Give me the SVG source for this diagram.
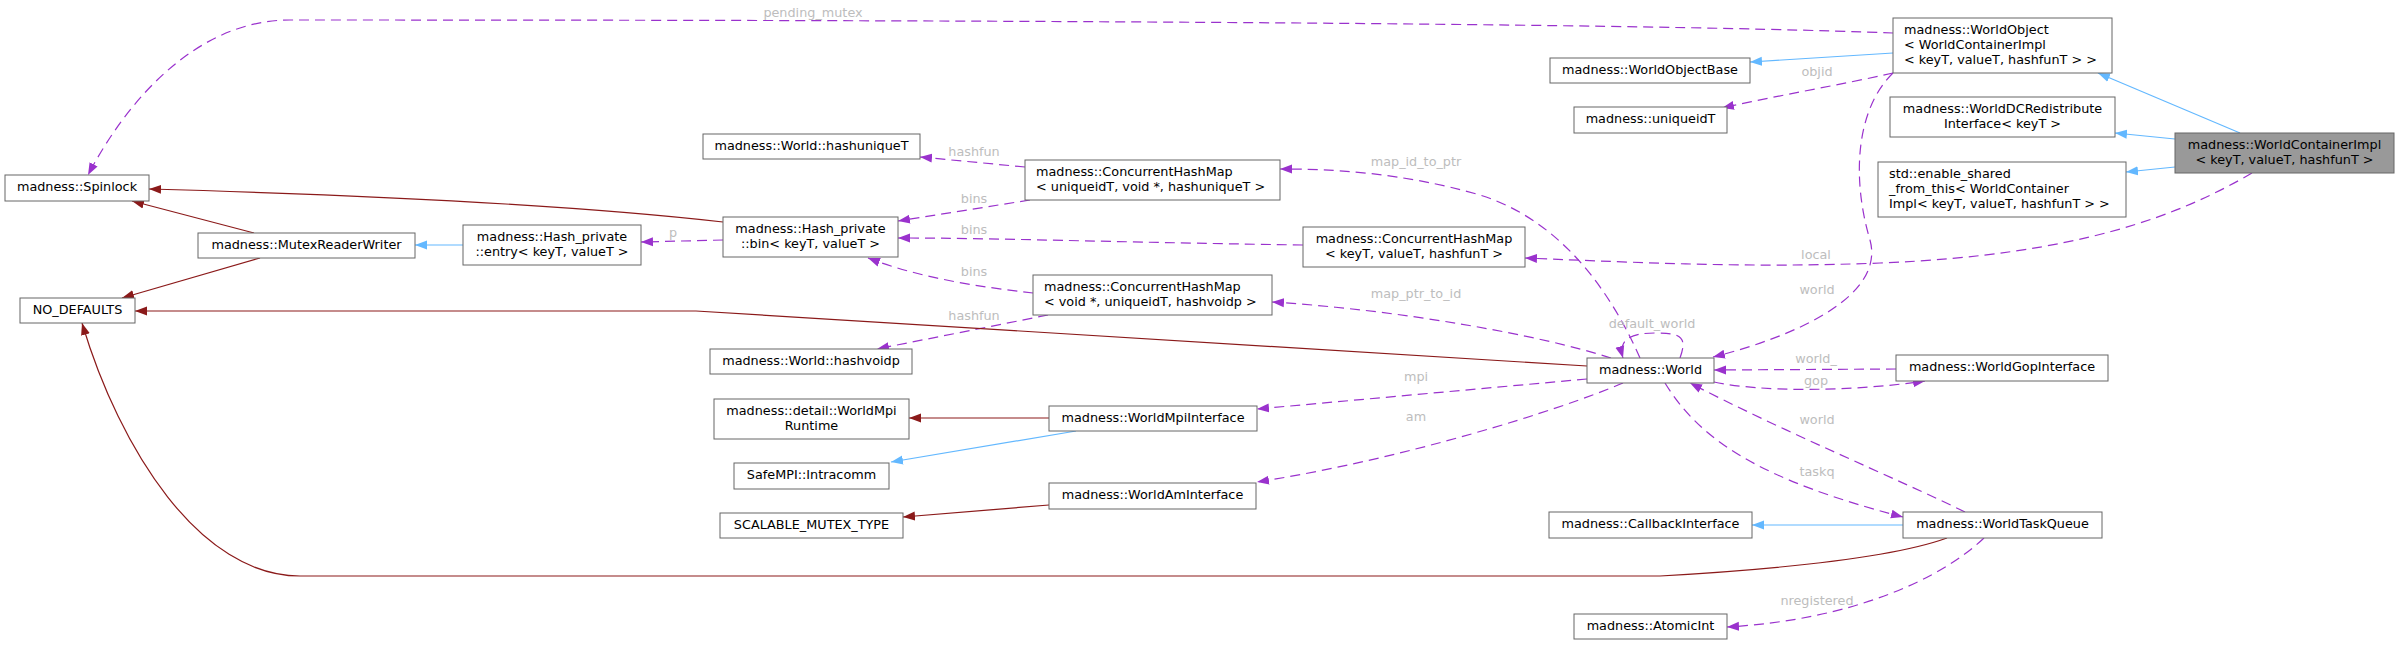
<svg xmlns="http://www.w3.org/2000/svg" width="2399" height="645" viewBox="0 0 2399 645">
<style>
.n rect{fill:#fff;stroke:#666;stroke-width:1}
.n rect.hl{fill:#999}
.n text{font-family:"DejaVu Sans",sans-serif;font-size:12.8px;fill:#000;text-anchor:middle}
.n text.l{text-anchor:start}
.e path{fill:none;stroke-width:1.2}
.e path.d{stroke:#9a32cd;stroke-dasharray:10,6;marker-end:url(#mp)}
.e path.b{stroke:#63b8ff;marker-end:url(#mb)}
.e path.r{stroke:#8b1a1a;marker-end:url(#mr)}
.lb text{font-family:"DejaVu Sans",sans-serif;font-size:12.8px;fill:#bdbdbd;text-anchor:middle}
</style>
<defs>
<marker id="mp" markerWidth="13" markerHeight="10" refX="12" refY="5" orient="auto" markerUnits="userSpaceOnUse"><path d="M0,0.5 L12,5 L0,9.5 z" fill="#9a32cd" stroke="none"/></marker>
<marker id="mb" markerWidth="13" markerHeight="10" refX="12" refY="5" orient="auto" markerUnits="userSpaceOnUse"><path d="M0,0.5 L12,5 L0,9.5 z" fill="#63b8ff" stroke="none"/></marker>
<marker id="mr" markerWidth="13" markerHeight="10" refX="12" refY="5" orient="auto" markerUnits="userSpaceOnUse"><path d="M0,0.5 L12,5 L0,9.5 z" fill="#8b1a1a" stroke="none"/></marker>
</defs>
<rect x="0" y="0" width="2399" height="645" fill="#fff"/>
<g id="connectors" class="e">
<path class="d" d="M1893,33 C1600,22 900,20 290,20 C200,20 130,95 88,175"/>
<path class="d" d="M1893,73 C1840,85 1780,95 1722,108"/>
<path class="d" d="M1893,73 C1855,110 1852,180 1870,240 C1885,295 1800,335 1713,357"/>
<path class="d" d="M2252,173 C2180,215 2080,255 1880,263 C1750,268 1650,263 1525,258"/>
<path class="d" d="M1640,358 C1610,290 1560,220 1480,195 C1400,172 1330,169 1280,169"/>
<path class="d" d="M1611,358 C1540,335 1400,310 1272,302"/>
<path class="d" d="M1680,358 C1688,336 1680,333 1655,333 C1630,333 1618,340 1623,358"/>
<path class="d" d="M1025,167 L920,157"/>
<path class="d" d="M1030,200 L898,221"/>
<path class="d" d="M1303,245 C1100,242 1000,238 898,238"/>
<path class="d" d="M1033,293 C980,287 920,278 868,258"/>
<path class="d" d="M1048,315 L877,349"/>
<path class="d" d="M723,240 L641,242"/>
<path class="d" d="M1587,379 L1257,409"/>
<path class="d" d="M1623,383 C1560,410 1400,460 1257,482"/>
<path class="d" d="M1896,369 L1714,370"/>
<path class="d" d="M1714,382 C1760,392 1850,392 1925,381"/>
<path class="d" d="M1965,512 C1900,480 1780,430 1690,383"/>
<path class="d" d="M1665,383 C1700,440 1760,480 1903,517"/>
<path class="d" d="M1984,538 C1940,580 1850,620 1727,627"/>
<path class="b" d="M1893,53 L1750,62"/>
<path class="b" d="M2240,133 L2098,73"/>
<path class="b" d="M2175,139 L2115,133"/>
<path class="b" d="M2175,167 L2126,172"/>
<path class="b" d="M463,245 L415,245"/>
<path class="b" d="M1076,431 L891,462"/>
<path class="b" d="M1903,525 L1752,525"/>
<path class="r" d="M723,222 C600,208 400,196 149,189"/>
<path class="r" d="M254,233 L132,201"/>
<path class="r" d="M260,258 L122,298"/>
<path class="r" d="M1587,366 L696,311 L135,311"/>
<path class="r" d="M1049,418 L909,418"/>
<path class="r" d="M1049,505 L903,517"/>
<path class="r" d="M1947,538 C1900,555 1800,568 1660,576 L300,576 C200,576 120,450 82,323"/>
</g>
<g id="edge-labels" class="lb">
<text x="813" y="17">pending_mutex</text>
<text x="1817" y="76">objid</text>
<text x="1817" y="294">world</text>
<text x="1816" y="259">local</text>
<text x="1416" y="166">map_id_to_ptr</text>
<text x="1416" y="298">map_ptr_to_id</text>
<text x="1652" y="328">default_world</text>
<text x="974" y="156">hashfun</text>
<text x="974" y="203">bins</text>
<text x="974" y="234">bins</text>
<text x="974" y="276">bins</text>
<text x="974" y="320">hashfun</text>
<text x="673" y="237">p</text>
<text x="1416" y="381">mpi</text>
<text x="1416" y="421">am</text>
<text x="1816" y="363">world_</text>
<text x="1816" y="385">gop</text>
<text x="1817" y="424">world</text>
<text x="1817" y="476">taskq</text>
<text x="1817" y="605">nregistered</text>
</g>
<g id="n-spinlock" class="n"><rect x="5" y="175" width="144" height="26"/><text x="77" y="191">madness::Spinlock</text></g>
<g id="n-mutexrw" class="n"><rect x="198" y="233" width="217" height="25"/><text x="306.5" y="249">madness::MutexReaderWriter</text></g>
<g id="n-nodefaults" class="n"><rect x="20" y="298" width="115" height="25"/><text x="77.5" y="314">NO_DEFAULTS</text></g>
<g id="n-entry" class="n"><rect x="463" y="225" width="178" height="40"/><text x="552" y="241">madness::Hash_private</text><text x="552" y="256">::entry&lt; keyT, valueT &gt;</text></g>
<g id="n-hashuniquet" class="n"><rect x="703" y="134" width="217" height="25"/><text x="811.5" y="150">madness::World::hashuniqueT</text></g>
<g id="n-bin" class="n"><rect x="723" y="217" width="175" height="40"/><text x="810.5" y="233">madness::Hash_private</text><text x="810.5" y="248">::bin&lt; keyT, valueT &gt;</text></g>
<g id="n-hashvoidp" class="n"><rect x="710" y="349" width="202" height="25"/><text x="811" y="365">madness::World::hashvoidp</text></g>
<g id="n-mpiruntime" class="n"><rect x="714" y="399" width="195" height="40"/><text x="811.5" y="415">madness::detail::WorldMpi</text><text x="811.5" y="430">Runtime</text></g>
<g id="n-intracomm" class="n"><rect x="734" y="463" width="155" height="26"/><text x="811.5" y="479">SafeMPI::Intracomm</text></g>
<g id="n-scalable" class="n"><rect x="720" y="513" width="183" height="25"/><text x="811.5" y="529">SCALABLE_MUTEX_TYPE</text></g>
<g id="n-chm-uid" class="n"><rect x="1025" y="160" width="255" height="40"/><text class="l" x="1036" y="176">madness::ConcurrentHashMap</text><text class="l" x="1036" y="191">&lt; uniqueidT, void *, hashuniqueT &gt;</text></g>
<g id="n-chm-void" class="n"><rect x="1033" y="275" width="239" height="40"/><text class="l" x="1044" y="291">madness::ConcurrentHashMap</text><text class="l" x="1044" y="306">&lt; void *, uniqueidT, hashvoidp &gt;</text></g>
<g id="n-mpiinterface" class="n"><rect x="1049" y="406" width="208" height="25"/><text x="1153" y="422">madness::WorldMpiInterface</text></g>
<g id="n-aminterface" class="n"><rect x="1049" y="483" width="207" height="26"/><text x="1152.5" y="499">madness::WorldAmInterface</text></g>
<g id="n-chm-key" class="n"><rect x="1303" y="227" width="222" height="40"/><text x="1414" y="243">madness::ConcurrentHashMap</text><text x="1414" y="258">&lt; keyT, valueT, hashfunT &gt;</text></g>
<g id="n-world" class="n"><rect x="1587" y="358" width="127" height="25"/><text x="1650.5" y="374">madness::World</text></g>
<g id="n-worldobjectbase" class="n"><rect x="1550" y="58" width="200" height="25"/><text x="1650" y="74">madness::WorldObjectBase</text></g>
<g id="n-uniqueidt" class="n"><rect x="1574" y="107" width="153" height="26"/><text x="1650.5" y="123">madness::uniqueidT</text></g>
<g id="n-callback" class="n"><rect x="1549" y="512" width="203" height="26"/><text x="1650.5" y="528">madness::CallbackInterface</text></g>
<g id="n-atomicint" class="n"><rect x="1574" y="614" width="153" height="25"/><text x="1650.5" y="630">madness::AtomicInt</text></g>
<g id="n-worldobject" class="n"><rect x="1893" y="18" width="219" height="55"/><text class="l" x="1904" y="34">madness::WorldObject</text><text class="l" x="1904" y="49">&lt; WorldContainerImpl</text><text class="l" x="1904" y="64">&lt; keyT, valueT, hashfunT &gt; &gt;</text></g>
<g id="n-dcredistribute" class="n"><rect x="1890" y="97" width="225" height="40"/><text x="2002.5" y="113">madness::WorldDCRedistribute</text><text x="2002.5" y="128">Interface&lt; keyT &gt;</text></g>
<g id="n-enableshared" class="n"><rect x="1878" y="162" width="248" height="55"/><text class="l" x="1889" y="178">std::enable_shared</text><text class="l" x="1889" y="193">_from_this&lt; WorldContainer</text><text class="l" x="1889" y="208">Impl&lt; keyT, valueT, hashfunT &gt; &gt;</text></g>
<g id="n-containerimpl" class="n"><rect class="hl" x="2175" y="133" width="219" height="40"/><text x="2284.5" y="149">madness::WorldContainerImpl</text><text x="2284.5" y="164">&lt; keyT, valueT, hashfunT &gt;</text></g>
<g id="n-gopinterface" class="n"><rect x="1896" y="355" width="212" height="26"/><text x="2002" y="371">madness::WorldGopInterface</text></g>
<g id="n-taskqueue" class="n"><rect x="1903" y="512" width="199" height="26"/><text x="2002.5" y="528">madness::WorldTaskQueue</text></g>
</svg>
